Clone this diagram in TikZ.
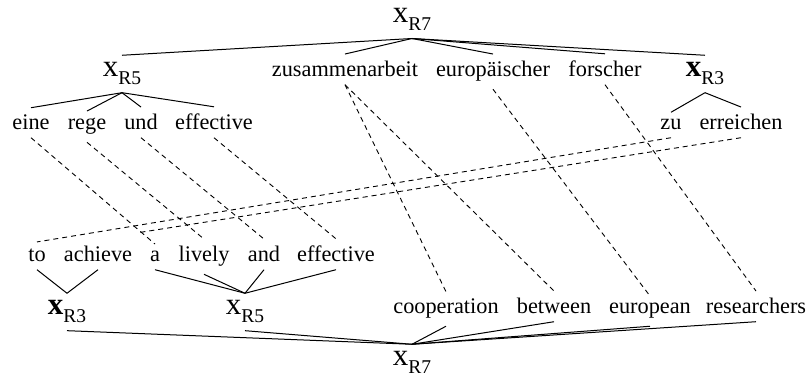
\documentclass[tikz,border=0pt]{standalone}
\usepackage{fontspec}
\setmainfont{Liberation Serif}
\newcommand\XRlab[1]{{\fontsize{31}{31}\selectfont x}\raisebox{-8pt}{\fontsize{19.5}{20}\selectfont #1}}
\newcommand\XRbold[1]{{\fontsize{31}{31}\selectfont\bfseries x}\raisebox{-8pt}{\fontsize{19.5}{20}\selectfont #1}}
\begin{document}
\begin{tikzpicture}[x=1pt,y=-1pt,
  word/.style={inner sep=7.5pt, outer sep=0pt, anchor=base, font=\fontsize{22.3}{24}\selectfont},
  tree/.style={line width=1pt},
  align/.style={line width=0.9pt, dash pattern=on 5pt off 4pt}]
\useasboundingbox (0,0) rectangle (812,379);
% top tree
\node[word] (t7) at (412,23) {\XRlab{R7}};
\node[word] (t5) at (122,77) {\XRlab{R5}};
\node[word] (zus) at (345,77) {zusammenarbeit};
\node[word] (eur) at (493,77) {europäischer};
\node[word] (for) at (605,77) {forscher};
\node[word] (t3) at (705,77) {\XRbold{R3}};
\node[word] (eine) at (31,130) {eine};
\node[word] (rege) at (87,130) {rege};
\node[word] (und) at (141,130) {und};
\node[word] (effd) at (214,130) {effective};
\node[word] (zu) at (671,130) {zu};
\node[word] (err) at (741,130) {erreichen};
% bottom tree
\node[word] (to) at (37,262) {to};
\node[word] (ach) at (98,262) {achieve};
\node[word] (a) at (155,262) {a};
\node[word] (liv) at (204,262) {lively};
\node[word] (and) at (264,262) {and};
\node[word] (effe) at (336,262) {effective};
\node[word] (b3) at (67,315) {\XRbold{R3}};
\node[word] (b5) at (245,315) {\XRlab{R5}};
\node[word] (coo) at (446,314) {cooperation};
\node[word] (bet) at (554,314) {between};
\node[word] (euro) at (650,314) {european};
\node[word] (res) at (756,314) {researchers};
\node[word] (b7) at (412,366) {\XRlab{R7}};
% top tree edges
\foreach \c in {t5,zus,eur,for,t3} \draw[tree] (t7.south) -- (\c.north);
\foreach \c in {eine,rege,und,effd} \draw[tree] (t5.south) -- (\c.north);
\foreach \c in {zu,err} \draw[tree] (t3.south) -- (\c.north);
% bottom tree edges
\foreach \c in {b3,b5,coo,bet,euro,res} \draw[tree] (b7.north) -- (\c.south);
\foreach \c in {to,ach} \draw[tree] (b3.north) -- (\c.south);
\foreach \c in {a,liv,and,effe} \draw[tree] (b5.north) -- (\c.south);
% alignments
\draw[align] (eine.south) -- (a.north);
\draw[align] (rege.south) -- (liv.north);
\draw[align] (und.south) -- (and.north);
\draw[align] (effd.south) -- (effe.north);
\draw[align] (zu.south) -- (to.north);
\draw[align, shorten >=42pt] (err.south) -- (ach.north);
\draw[align] (zus.south) -- (coo.north);
\draw[align] (zus.south) -- (bet.north);
\draw[align] (eur.south) -- (euro.north);
\draw[align] (for.south) -- (res.north);
\end{tikzpicture}
\end{document}
